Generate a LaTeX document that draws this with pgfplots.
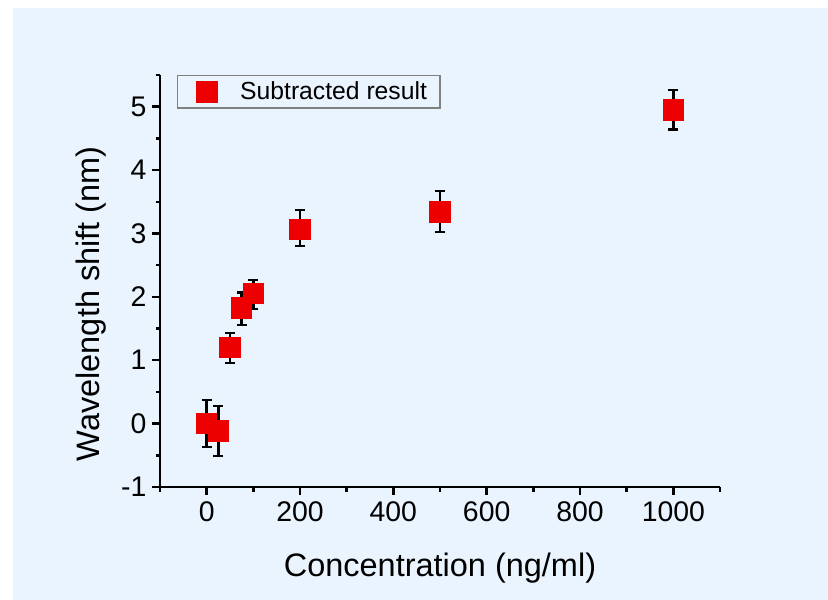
\documentclass[border=0pt]{standalone}
\usepackage{fontspec}
\setmainfont{Liberation Sans}
\usepackage{pgfplots}
\usepackage{pgfplotstable}
\pgfplotsset{compat=1.18}
\definecolor{panel}{RGB}{234,244,254}
\definecolor{markred}{RGB}{236,0,0}

\pgfplotstableread{
x     y      ep    em
0     0.00   0.37  0.37
25   -0.12   0.40  0.39
50    1.20   0.23  0.24
75    1.82   0.25  0.26
100   2.05   0.22  0.24
200   3.06   0.31  0.26
500   3.34   0.33  0.32
1000  4.95   0.31  0.31
}\shiftdata

\begin{document}
\begin{tikzpicture}
% page and light blue panel
\fill[white] (0bp,0bp) rectangle (828bp,600bp);
\fill[panel] (13bp,0bp) rectangle (828bp,592bp);
\begin{axis}[
    at={(160bp,113bp)}, anchor=south west,
    scale only axis,
    width=560bp, height=412bp,
    xmin=-100, xmax=1100,
    ymin=-1, ymax=5.5,
    xtick={0,200,...,1000},
    ytick={-1,0,...,5},
    minor xtick={-100,100,...,1100},
    minor ytick={-0.5,0.5,...,5.5},
    axis x line*=bottom,
    axis y line*=left,
    axis line style={-, line width=2.4bp, black},
    tick align=outside,
    major tick length=8bp,
    minor tick length=4.5bp,
    every tick/.style={black, line width=2.4bp},
    /pgf/number format/assume math mode=true,
    /pgf/number format/set thousands separator={},
    ticklabel style={font=\fontsize{28.5}{32}\selectfont},
    xticklabel style={yshift=-3bp},
    yticklabel style={xshift=-2bp},
    label style={font=\fontsize{32.6}{38}\selectfont},
    xlabel={Concentration (ng/ml)},
    ylabel={Wavelength shift (nm)},
    xlabel style={at={(axis description cs:0.5,-0.2184)}, anchor=base},
    ylabel style={at={(axis description cs:-0.1089,0.4446)}, anchor=base, rotate=0},
    clip=false,
    legend style={
        at={(axis description cs:0.0298,1.0)}, anchor=north west,
        draw=gray, line width=1.2bp, fill=panel,
        font=\fontsize{24.8}{28}\selectfont,
        inner xsep=3bp, inner ysep=4.5bp,
    },
    legend cell align=left,
    legend image code/.code={
        \path (0bp,0bp) (56.7bp,0bp);
        \draw[mark repeat=2, mark phase=2, #1]
            plot coordinates {(0bp,0bp) (26.3bp,0bp) (52.6bp,0bp)};
    },
]
\addplot[
    only marks,
    mark=square*,
    mark size=10.3bp,
    mark options={fill=markred, draw=markred, line width=0pt},
    error bars/.cd,
        y dir=both, y explicit,
        error bar style={line width=2.4bp, black},
        error mark options={rotate=90, mark size=5bp, line width=2.4bp, black},
] table[x=x, y=y, y error plus=ep, y error minus=em] {\shiftdata};
\addlegendentry{Subtracted result\hspace*{8bp}}
\end{axis}
\end{tikzpicture}
\end{document}
